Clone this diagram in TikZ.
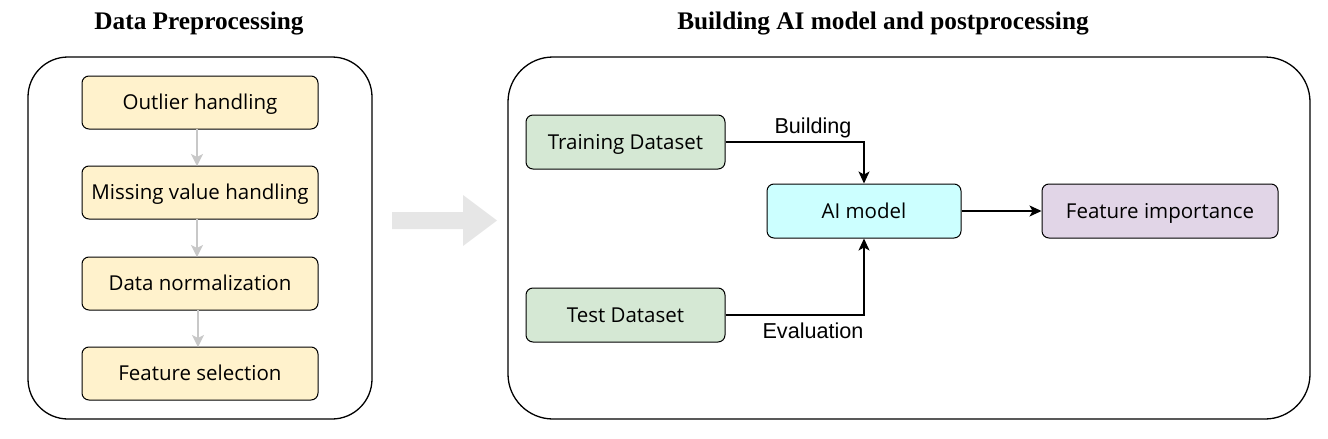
\documentclass[tikz,border=0pt]{standalone}
\usepackage{fontspec}
\setmainfont{Liberation Serif}
\newfontfamily\boxfont{Open Sans}
\newfontfamily\lblfont{Liberation Sans}
\usetikzlibrary{arrows.meta}
\definecolor{yel}{HTML}{FFF2CC}
\definecolor{grn}{HTML}{D5E8D4}
\definecolor{cyn}{HTML}{CCFFFF}
\definecolor{pur}{HTML}{E1D5E7}
\definecolor{garr}{HTML}{C8C8C8}
\definecolor{bigarr}{HTML}{E6E6E6}
\tikzset{
  x=1pt,y=-1pt,
  panel/.style={draw=black,line width=1.3pt,rounded corners=40pt},
  stepbox/.style={draw=black,line width=1pt,rounded corners=7pt,inner sep=0pt,text height=14.5pt,text depth=0pt,font=\boxfont\fontsize{20.5}{24}\selectfont},
  title/.style={font=\bfseries\fontsize{25.3}{30}\selectfont},
  lbl/.style={font=\lblfont\fontsize{21.6}{26}\selectfont},
  garrow/.style={draw=garr,line width=1.5pt,-{Stealth[length=12pt,width=12pt,inset=3pt]}},
  karrow/.style={draw=black,line width=1.3pt,-{Stealth[length=12pt,width=11pt,inset=3pt]}}
}
\begin{document}
\begin{tikzpicture}
\useasboundingbox (0,0) rectangle (1328,439);
% titles
\node[title] (t1) at (199,24) {Data Preprocessing};
\node[title] (t2) at (883,24) {Building AI model and postprocessing};
% panels
\draw[panel] (28,57) rectangle (372,419);
\draw[panel,rounded corners=45pt] (508,57) rectangle (1310,419);
% left boxes
\node[stepbox,fill=yel,minimum width=236pt,minimum height=53pt] (o) at (200,102.5) {Outlier handling};
\node[stepbox,fill=yel,minimum width=236pt,minimum height=53pt] (m) at (200,192.5) {Missing value handling};
\node[stepbox,fill=yel,minimum width=236pt,minimum height=53pt] (d) at (200,283.5) {Data normalization};
\node[stepbox,fill=yel,minimum width=236pt,minimum height=53pt] (f) at (200,373.5) {Feature selection};
\draw[garrow] (197,129) -- (197,166);
\draw[garrow] (197,219) -- (197,257);
\draw[garrow] (198,310) -- (198,347);
% big arrow
\fill[bigarr] (392,212) -- (463,212) -- (463,195) -- (497,220.5) -- (463,246) -- (463,229) -- (392,229) -- cycle;
% right boxes
\node[stepbox,fill=grn,minimum width=199pt,minimum height=54pt] (tr) at (625.5,142) {Training Dataset};
\node[stepbox,fill=grn,minimum width=199pt,minimum height=54pt] (te) at (625.5,315) {Test Dataset};
\node[stepbox,fill=cyn,minimum width=194pt,minimum height=54pt] (ai) at (864,211) {AI model};
\node[stepbox,fill=pur,minimum width=236pt,minimum height=54pt] (fi) at (1160,211) {Feature importance};
\draw[karrow] (tr.east) -| (ai.north);
\draw[karrow] (te.east) -| (ai.south);
\draw[karrow] (ai.east) -- (fi.west);
\node[lbl] (lb) at (813,128) {Building};
\node[lbl] (le) at (813,331) {Evaluation};
\end{tikzpicture}
\end{document}
